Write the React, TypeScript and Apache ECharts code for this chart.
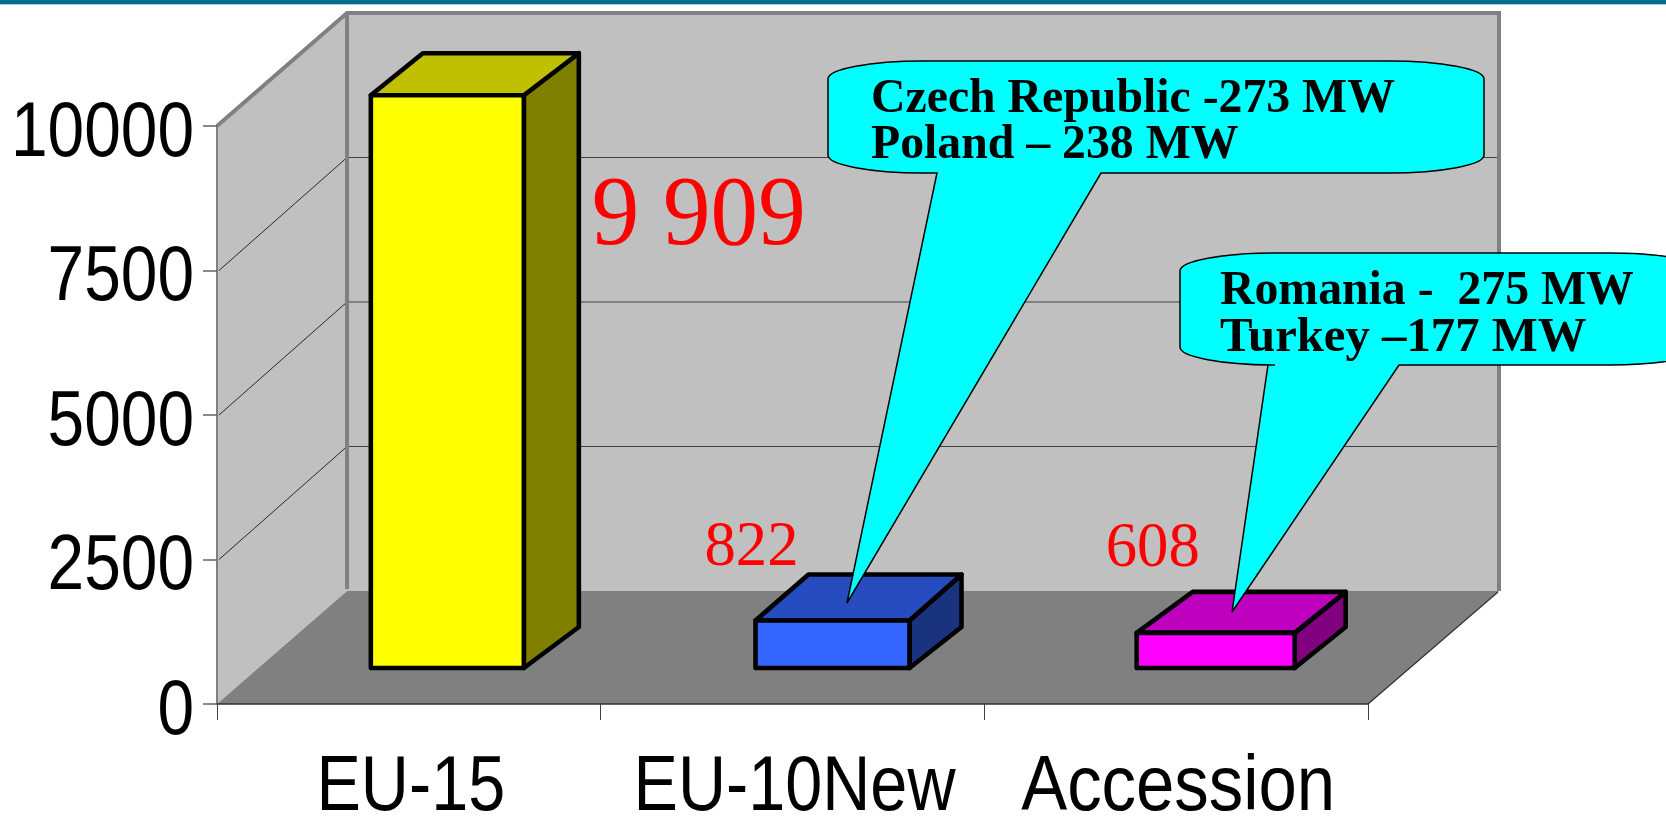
import React, { useEffect, useRef } from "react";
import * as echarts from "echarts";

// ---- data ----
const categories = ["EU-15", "EU-10New", "Accession"];
const capacityMW = [9909, 822, 608];
const valueLabels = ["9 909", "822", "608"];
const yTicks = [0, 2500, 5000, 7500, 10000];
const calloutOneLines = ["Czech Republic -273 MW", "Poland – 238 MW"];
const calloutTwoLines = ["Romania -  275 MW", "Turkey –177 MW"];

// ---- drawing constants ----
const FW = 1666, FH = 819;
const GRID = { left: 217, top: 126, width: 1151, height: 578 };
const WALL_DX = 130, WALL_DY = -113;
const WALL = "#C0C0C0", FLOOR = "#808080", EDGE = "#808080";
const BAR_BASE_LIFT = 36;
const BAR_LEFT = [-38, -37, -39.5];
const BAR_W = [153, 154, 158];
const BAR_DX_LEFT = [52, 53, 56];
const BAR_DX_RIGHT = [55, 52, 51];
const BAR_DY_TOP = [42, 46, 41];
const BAR_DY_BOT = [41, 41, 41];
const BAR_COL = [
  { front: "#FFFF00", top: "#C0C000", side: "#808000" },
  { front: "#3366FF", top: "#264CBF", side: "#19337F" },
  { front: "#FF00FF", top: "#BF00BF", side: "#800080" },
];
const LABEL_POS = [
  { dx: 221, dy: 165, size: 99, sx: 0.96 },
  { dx: -51, dy: -45, size: 64, sx: 0.98 },
  { dx: -31, dy: -56, size: 64, sx: 0.98 },
];
const SQUEEZE_Y = 0.855;
const SQUEEZE_X: Record<string, number> = { "EU-15": 0.865, "EU-10New": 0.865, Accession: 0.895 };

function calloutPath(l: number, t: number, r: number, b: number, rx: number, ry: number, bl: number, br: number, tx: number, ty: number) {
  return `M ${l + rx} ${t} L ${r - rx} ${t} A ${rx} ${ry} 0 0 1 ${r} ${t + ry} L ${r} ${b - ry} A ${rx} ${ry} 0 0 1 ${r - rx} ${b} L ${br} ${b} L ${tx} ${ty} L ${bl} ${b} L ${l + rx} ${b} A ${rx} ${ry} 0 0 1 ${l} ${b - ry} L ${l} ${t + ry} A ${rx} ${ry} 0 0 1 ${l + rx} ${t} Z`;
}

echarts.graphic.registerShape("calloutOne", echarts.graphic.extendPath(calloutPath(828, 61, 1484, 173, 95, 18, 937, 1101, 847, 603) as any, {}) as any);
echarts.graphic.registerShape("calloutTwo", echarts.graphic.extendPath(calloutPath(1180, 253, 1705, 365, 95, 18, 1268, 1399, 1232, 612) as any, {}) as any);

const SERIF = '"Liberation Serif", "Times New Roman", serif';
const SANS = '"Liberation Sans", Arial, sans-serif';

function calloutText(text: string, x: number, y: number, sx = 0.975) {
  return {
    type: "text", x, y, scaleX: sx, z: 60,
    style: { text, font: `bold 49px ${SERIF}`, fill: "#000", textAlign: "left", textVerticalAlign: "bottom" },
  };
}

export default function App() {
  const ref = useRef<HTMLDivElement>(null);
  useEffect(() => {
    const chart = echarts.init(ref.current!, undefined, { renderer: "svg" });
    const renderWalls = (_: any, api: any) => {
      const front = (v: number) => api.coord([0, v]);
      const [x0, y0] = [GRID.left, front(0)[1]];
      const yTop = front(10000)[1];
      const xR = GRID.left + GRID.width;
      const bx = x0 + WALL_DX, backY = (v: number) => front(v)[1] + WALL_DY, rx = xR + WALL_DX + 1;
      const inner = yTicks.filter((v) => v > 0 && v < 10000);
      const children: any[] = [
        { type: "polygon", shape: { points: [[x0, yTop], [bx, backY(10000)], [bx, backY(0)], [x0, y0]] }, style: { fill: WALL } },
        { type: "rect", shape: { x: bx, y: backY(10000), width: rx - bx, height: backY(0) - backY(10000) }, style: { fill: WALL } },
        { type: "polygon", shape: { points: [[x0, y0], [bx, backY(0)], [rx, backY(0)], [xR, y0]] }, style: { fill: FLOOR } },
        { type: "line", shape: { x1: xR, y1: y0, x2: rx - 1, y2: backY(0) + 1 }, style: { stroke: "#303030", lineWidth: 1.2 } },
      ];
      inner.forEach((v) => {
        children.push({ type: "line", shape: { x1: x0 + 2, y1: front(v)[1], x2: bx, y2: backY(v) }, style: { stroke: "#000", lineWidth: 0.8 } });
        children.push({ type: "line", shape: { x1: bx, y1: backY(v), x2: rx - 2, y2: backY(v) }, style: { stroke: "#404040", lineWidth: 1 } });
      });
      children.push({ type: "polyline", shape: { points: [[x0, yTop], [bx, backY(10000)], [rx, backY(10000)], [rx, backY(0)]] }, style: { fill: "none", stroke: EDGE, lineWidth: 4 } });
      children.push({ type: "line", shape: { x1: bx, y1: backY(10000), x2: bx, y2: backY(0) - 2 }, style: { stroke: EDGE, lineWidth: 4 } });
      return { type: "group", children };
    };
    const renderBar = (params: any, api: any) => {
      const i = params.dataIndex;
      const value = api.value(1);
      const zero = api.coord([i, 0]);
      const tip = api.coord([i, value]);
      const h = zero[1] - tip[1];
      const l = zero[0] + BAR_LEFT[i], r = l + BAR_W[i];
      const b = zero[1] - BAR_BASE_LIFT, t = b - h;
      const dxL = BAR_DX_LEFT[i], dxR = BAR_DX_RIGHT[i], dt = BAR_DY_TOP[i], db = BAR_DY_BOT[i];
      const c = BAR_COL[i];
      const line = { stroke: "#000", lineWidth: 4.6, lineJoin: "round" };
      const lab = LABEL_POS[i];
      return {
        type: "group",
        children: [
          { type: "polygon", shape: { points: [[r, t], [r + dxR, t - dt], [r + dxR, b - db], [r, b]] }, style: { fill: c.side, ...line } },
          { type: "polygon", shape: { points: [[l, t], [l + dxL, t - dt], [r + dxR, t - dt], [r, t]] }, style: { fill: c.top, ...line } },
          { type: "rect", shape: { x: l, y: t, width: r - l, height: h }, style: { fill: c.front, ...line } },
          {
            type: "text", x: l + lab.dx, y: t + lab.dy, scaleX: lab.sx,
            style: { text: valueLabels[i], font: `${lab.size}px ${SERIF}`, fill: "#FF0000", textAlign: "left", textVerticalAlign: "bottom" },
          },
        ],
      };
    };
    chart.setOption({
      animation: false,
      backgroundColor: "#FFFFFF",
      grid: { ...GRID, containLabel: false, outerBoundsMode: "none" },
      xAxis: {
        type: "category",
        data: categories,
        z: 5,
        axisLine: { lineStyle: { color: "#303030", width: 1.5 } },
        axisTick: { show: true, length: 16, lineStyle: { color: "#404040", width: 1 } },
        axisLabel: { fontFamily: SANS, fontSize: 77, color: "#000", margin: 41, interval: 0, hideOverlap: false },
      },
      yAxis: {
        type: "value",
        min: 0,
        max: 10000,
        interval: 2500,
        z: 5,
        splitLine: { show: false },
        axisLine: { show: true, lineStyle: { color: "#808080", width: 2 } },
        axisTick: { show: true, length: 14, lineStyle: { color: "#606060", width: 1.5 } },
        axisLabel: { fontFamily: SANS, fontSize: 77, color: "#000", margin: 23, hideOverlap: false, formatter: (v: number) => String(v) },
      },
      series: [
        { type: "custom", name: "walls", coordinateSystem: "cartesian2d", z: 1, silent: true, data: [[0, 0]], renderItem: renderWalls, clip: false },
        { type: "custom", name: "capacity", coordinateSystem: "cartesian2d", z: 10, data: capacityMW.map((v, i) => [i, v]), encode: { x: 0, y: 1 }, renderItem: renderBar, clip: false },
      ],
      graphic: [
        { type: "rect", z: 60, shape: { x: 0, y: 0, width: FW, height: 4 }, style: { fill: "#006F8E" } },
        { type: "rect", z: 60, shape: { x: 0, y: 4, width: FW, height: 1 }, style: { fill: "#9CCFD7" } },
        { type: "calloutOne", z: 50, x: 0, y: 0, style: { fill: "#00FFFF", stroke: "#000", lineWidth: 1.5 } },
        { type: "calloutTwo", z: 50, x: 0, y: 0, style: { fill: "#00FFFF", stroke: "#000", lineWidth: 1.5 } },
        calloutText(calloutOneLines[0], 871, 120),
        calloutText(calloutOneLines[1], 871, 166),
        calloutText(calloutTwoLines[0], 1220, 312),
        calloutText(calloutTwoLines[1], 1220, 359, 0.995),
      ],
    });
    // The reference's sans-serif axis texts are horizontally condensed; no narrow font is installed,
    // so the native axis labels get the same squeeze about their own anchor.
    const yTexts = new Set<string>(yTicks.map(String));
    const zr: any = chart.getZr();
    const seen = new Set<any>();
    zr.storage.getDisplayList(true, true).forEach((el: any) => {
      const owner = el.parent;
      const text = el.style && el.style.text;
      if (!owner || typeof text !== "string" || seen.has(owner)) return;
      if (yTexts.has(text)) {
        seen.add(owner);
        owner.scaleX = SQUEEZE_Y;
        owner.y += 3;
        owner.markRedraw();
      } else if (SQUEEZE_X[text]) {
        seen.add(owner);
        owner.scaleX = SQUEEZE_X[text];
        owner.x += 2;
        owner.markRedraw();
      }
    });
    zr.refreshImmediately();
    return () => chart.dispose();
  }, []);
  return <div ref={ref} style={{ position: "absolute", left: 0, top: 0, width: FW, height: FH, overflow: "hidden" }} />;
}
